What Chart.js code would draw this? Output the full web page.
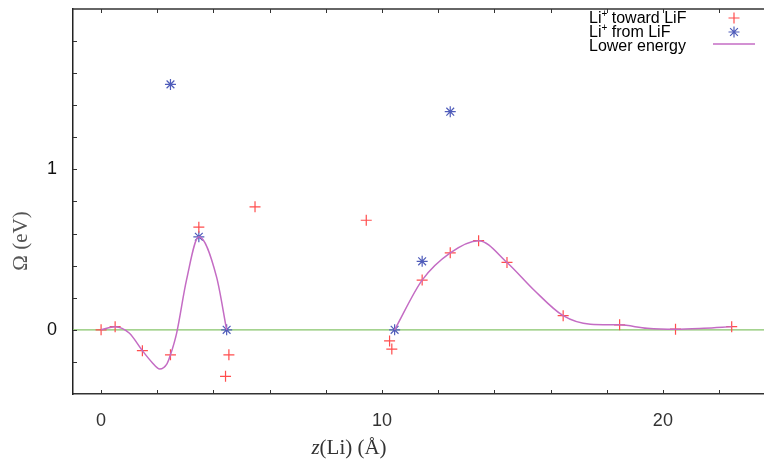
<!DOCTYPE html>
<html>
<head>
<meta charset="utf-8">
<script src="https://cdn.jsdelivr.net/npm/chart.js@4.4.0/dist/chart.umd.min.js"></script>
<style>
  html, body { margin: 0; padding: 0; background: #fff; }
</style>
</head>
<body>
<canvas id="chart" width="764" height="472"></canvas>
<script>
// Li+ toward LiF (red +)
const towardZ     = [0.0, 0.5, 1.47, 2.47, 3.48, 4.55, 4.43, 5.48, 9.44, 10.27, 10.35, 11.43, 12.43, 13.44, 14.45, 16.45, 18.46, 20.45, 22.45];
const towardOmega = [0.0, 0.02, -0.13, -0.156, 0.64, -0.156, -0.29, 0.767, 0.683, -0.069, -0.12, 0.31, 0.48, 0.556, 0.42, 0.088, 0.031, 0.004, 0.02];

// Li+ from LiF (blue stars)
const fromZ     = [2.47, 3.48, 4.47, 10.45, 11.43, 12.43];
const fromOmega = [1.53, 0.58, 0.0, 0.0, 0.427, 1.36];

// Lower energy curve, two pieces
const lowerZ1     = [0.0, 0.5, 1.0, 1.47, 1.8, 2.09, 2.35, 2.47, 2.69, 3.04, 3.48, 4.11, 4.47];
const lowerOmega1 = [0.0, 0.02, -0.02, -0.13, -0.2, -0.244, -0.21, -0.156, -0.02, 0.31, 0.58, 0.33, 0.0];
const lowerZ2     = [10.45, 11.43, 12.43, 13.44, 14.45, 15.4, 16.45, 17.42, 18.46, 19.44, 20.45, 21.46, 22.45];
const lowerOmega2 = [0.0, 0.31, 0.48, 0.556, 0.42, 0.25, 0.088, 0.035, 0.031, 0.01, 0.004, 0.01, 0.02];

const xTicks = [0, 10, 20];
const yTicks = [0, 1];
const xMinorTicks = [0, 2, 4, 6, 8, 10, 12, 14, 16, 18, 20, 22];
const yMinorTicks = [-0.2, 0, 0.2, 0.4, 0.6, 0.8, 1, 1.2, 1.4, 1.6, 1.8];

const RED = '#ff4d4d';
const BLUE = '#4f5cba';
const PINK = '#c46cc4';
const GREEN = '#86c46a';
const SANS = '"Liberation Sans", Arial, sans-serif';
const SERIF = '"Liberation Serif", "Times New Roman", serif';

const pts = (xs, ys) => xs.map((x, i) => ({ x: x, y: ys[i] }));

const noPad = s => {
    s.paddingTop = 0;
    s.paddingBottom = 0;
    s.paddingLeft = 0;
    s.paddingRight = 0;
};

const decor = {
    id: 'decor',
    beforeDatasetsDraw(chart) {
        const { ctx, chartArea: a, scales: { y } } = chart;
        const y0 = y.getPixelForValue(0);
        ctx.save();
        ctx.strokeStyle = GREEN;
        ctx.lineWidth = 1.3;
        ctx.beginPath();
        ctx.moveTo(a.left, y0);
        ctx.lineTo(a.right, y0);
        ctx.stroke();
        ctx.restore();
    },
    afterDraw(chart) {
        const { ctx, chartArea: a, scales: { x, y } } = chart;
        ctx.save();
        // top border
        ctx.strokeStyle = '#333';
        ctx.lineWidth = 1.5;
        ctx.beginPath();
        ctx.moveTo(a.left, a.top);
        ctx.lineTo(a.right, a.top);
        ctx.stroke();
        // inward tick marks
        ctx.lineWidth = 1;
        ctx.beginPath();
        yMinorTicks.forEach(v => {
            const py = Math.round(y.getPixelForValue(v)) + 0.5;
            ctx.moveTo(a.left, py);
            ctx.lineTo(a.left + 4, py);
        });
        xMinorTicks.forEach(v => {
            const px = Math.round(x.getPixelForValue(v)) + 0.5;
            ctx.moveTo(px, a.bottom);
            ctx.lineTo(px, a.bottom - 4);
            ctx.moveTo(px, a.top);
            ctx.lineTo(px, a.top + 4);
        });
        ctx.stroke();

        // axis titles
        ctx.fillStyle = '#555';
        ctx.font = '21px ' + SERIF;
        ctx.textAlign = 'center';
        ctx.textBaseline = 'middle';
        ctx.save();
        ctx.translate(21, 241);
        ctx.rotate(-Math.PI / 2);
        ctx.fillText('Ω (eV)', 0, 0);
        ctx.restore();

        ctx.fillStyle = '#333';
        ctx.textAlign = 'left';
        ctx.textBaseline = 'alphabetic';
        ctx.font = 'italic 21px ' + SERIF;
        const zW = ctx.measureText('z').width;
        ctx.font = '21px ' + SERIF;
        const restW = ctx.measureText('(Li) (Å)').width;
        const tx = 349 - (zW + restW) / 2;
        ctx.font = 'italic 21px ' + SERIF;
        ctx.fillText('z', tx, 454);
        ctx.font = '21px ' + SERIF;
        ctx.fillText('(Li) (Å)', tx + zW, 454);

        // legend
        const rows = [
            { pre: 'Li', sup: '+', post: ' toward LiF', y: 19 },
            { pre: 'Li', sup: '+', post: ' from LiF', y: 33 },
            { pre: 'Lower energy', sup: '', post: '', y: 47 }
        ];
        ctx.fillStyle = '#000';
        ctx.textBaseline = 'middle';
        rows.forEach(r => {
            let cx = 589;
            ctx.font = '16px ' + SANS;
            ctx.fillText(r.pre, cx, r.y);
            cx += ctx.measureText(r.pre).width;
            if (r.sup) {
                ctx.font = '10px ' + SANS;
                ctx.fillText(r.sup, cx, r.y - 5);
                cx += ctx.measureText(r.sup).width;
                ctx.font = '16px ' + SANS;
                ctx.fillText(r.post, cx, r.y);
            }
        });
        ctx.strokeStyle = RED;
        ctx.lineWidth = 1.2;
        ctx.beginPath();
        ctx.moveTo(734, 12.5); ctx.lineTo(734, 23.5);
        ctx.moveTo(728.5, 18); ctx.lineTo(739.5, 18);
        ctx.stroke();
        ctx.strokeStyle = BLUE;
        ctx.fillStyle = BLUE;
        Chart.helpers.drawPoint(ctx, { pointStyle: 'star', radius: 5.5, borderWidth: 1.2 }, 734, 32);
        ctx.strokeStyle = PINK;
        ctx.lineWidth = 1.5;
        ctx.beginPath();
        ctx.moveTo(713, 44);
        ctx.lineTo(755, 44);
        ctx.stroke();
        ctx.restore();
    }
};

new Chart(document.getElementById('chart').getContext('2d'), {
    type: 'scatter',
    data: {
        datasets: [
            {
                label: 'Lower energy',
                data: pts(lowerZ1, lowerOmega1),
                showLine: true,
                borderColor: PINK,
                borderWidth: 1.5,
                pointRadius: 0,
                cubicInterpolationMode: 'monotone'
            },
            {
                label: 'Lower energy 2',
                data: pts(lowerZ2, lowerOmega2),
                showLine: true,
                borderColor: PINK,
                borderWidth: 1.5,
                pointRadius: 0,
                cubicInterpolationMode: 'monotone'
            },
            {
                label: 'Li+ toward LiF',
                data: pts(towardZ, towardOmega),
                pointStyle: 'cross',
                pointRadius: 5.5,
                pointBorderWidth: 1.2,
                borderColor: RED,
                backgroundColor: RED
            },
            {
                label: 'Li+ from LiF',
                data: pts(fromZ, fromOmega),
                pointStyle: 'star',
                pointRadius: 5.5,
                pointBorderWidth: 1.2,
                borderColor: BLUE,
                backgroundColor: BLUE
            }
        ]
    },
    options: {
        responsive: false,
        animation: false,
        layout: { autoPadding: false, padding: { top: 9, right: 0, left: 0, bottom: 0 } },
        plugins: {
            legend: { display: false },
            tooltip: { enabled: false }
        },
        scales: {
            x: {
                type: 'linear',
                min: -1,
                max: 23.6,
                grid: { display: false, drawTicks: false },
                border: { display: true, color: '#333', width: 1.5 },
                ticks: { font: { family: SANS, size: 18 }, color: '#333', padding: 16, maxRotation: 0 },
                afterBuildTicks: s => { s.ticks = xTicks.map(v => ({ value: v })); },
                afterFit: s => { s.height = 78; noPad(s); }
            },
            y: {
                type: 'linear',
                min: -0.4,
                max: 2.0,
                grid: { display: false, drawTicks: false },
                border: { display: true, color: '#222', width: 1.5 },
                ticks: { font: { family: SANS, size: 18 }, color: '#111', padding: 16 },
                afterBuildTicks: s => { s.ticks = yTicks.map(v => ({ value: v })); },
                afterFit: s => { s.width = 73; noPad(s); }
            }
        }
    },
    plugins: [decor]
});
</script>
</body>
</html>
